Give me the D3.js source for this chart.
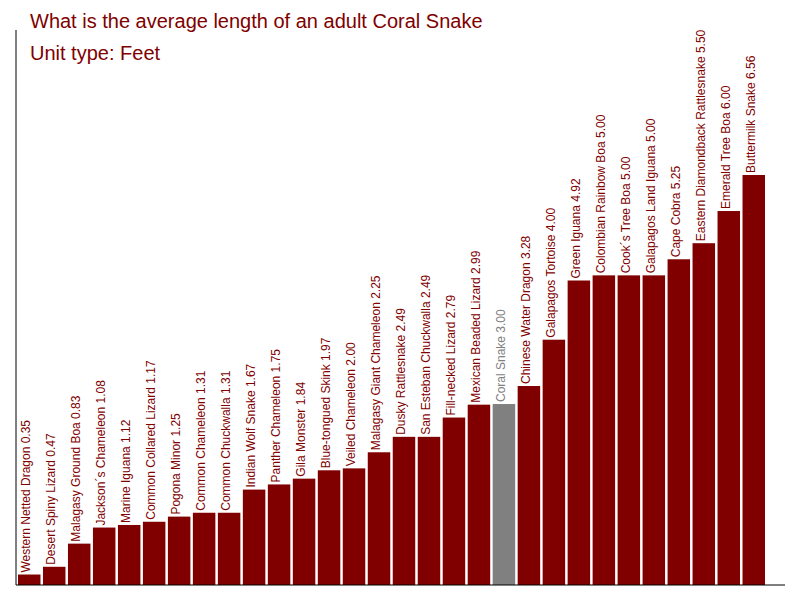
<!DOCTYPE html>
<html><head><meta charset="utf-8">
<script src="https://cdn.jsdelivr.net/npm/d3@7"></script>
<style>body{margin:0;background:#fff}text{font-family:"Liberation Sans",Arial,sans-serif}</style>
</head><body>
<script>
var names = ["Western Netted Dragon","Desert Spiny Lizard","Malagasy Ground Boa","Jackson\u00b4s Chameleon","Marine Iguana","Common Collared Lizard","Pogona Minor","Common Chameleon","Common Chuckwalla","Indian Wolf Snake","Panther Chameleon","Gila Monster","Blue-tongued Skink","Veiled Chameleon","Malagasy Giant Chameleon","Dusky Rattlesnake","San Esteban Chuckwalla","Fill-necked Lizard","Mexican Beaded Lizard","Coral Snake","Chinese Water Dragon","Galapagos Tortoise","Green Iguana","Colombian Rainbow Boa","Cook\u00b4s Tree Boa","Galapagos Land Iguana ","Cape Cobra","Eastern Diamondback Rattlesnake","Emerald Tree Boa","Buttermilk Snake"];
var values = [0.35,0.47,0.83,1.08,1.12,1.17,1.25,1.31,1.31,1.67,1.75,1.84,1.97,2.00,2.25,2.49,2.49,2.79,2.99,3.00,3.28,4.00,4.92,5.00,5.00,5.00,5.25,5.50,6.00,6.56];
var highlight = "Coral Snake";

var svg = d3.select("body").append("svg").attr("width",800).attr("height",600);
var x = d3.scaleBand().domain(names).range([18,765]).paddingInner(0.1).paddingOuter(0);
var y = d3.scaleLinear().domain([0.187,6.56]).range([585,175]);

var g = svg.selectAll("g.bar").data(names).enter().append("g");
g.append("rect")
  .attr("x", function(d){ return x(d); })
  .attr("width", x.bandwidth())
  .attr("y", function(d,i){ return y(values[i]); })
  .attr("height", function(d,i){ return 585 - y(values[i]); })
  .attr("fill", function(d){ return d==highlight ? "#808080" : "#800000"; });
g.append("text")
  .attr("transform", function(d,i){ return "translate(" + (x(d)+12) + "," + (y(values[i])-2) + ") rotate(-90)"; })
  .attr("font-size", 12)
  .attr("fill", function(d){ return d==highlight ? "#808080" : "#800000"; })
  .text(function(d,i){ return d + " " + values[i].toFixed(2); });

svg.append("line").attr("x1",16).attr("x2",16).attr("y1",30).attr("y2",585).attr("stroke","#000");
svg.append("line").attr("x1",16).attr("x2",785).attr("y1",585).attr("y2",585).attr("stroke","#000");
svg.append("text").attr("x",30).attr("y",28).attr("font-size",20).attr("fill","#800000").text("What is the average length of an adult Coral Snake");
svg.append("text").attr("x",30).attr("y",60).attr("font-size",20).attr("fill","#800000").text("Unit type: Feet");
</script>
</body></html>
